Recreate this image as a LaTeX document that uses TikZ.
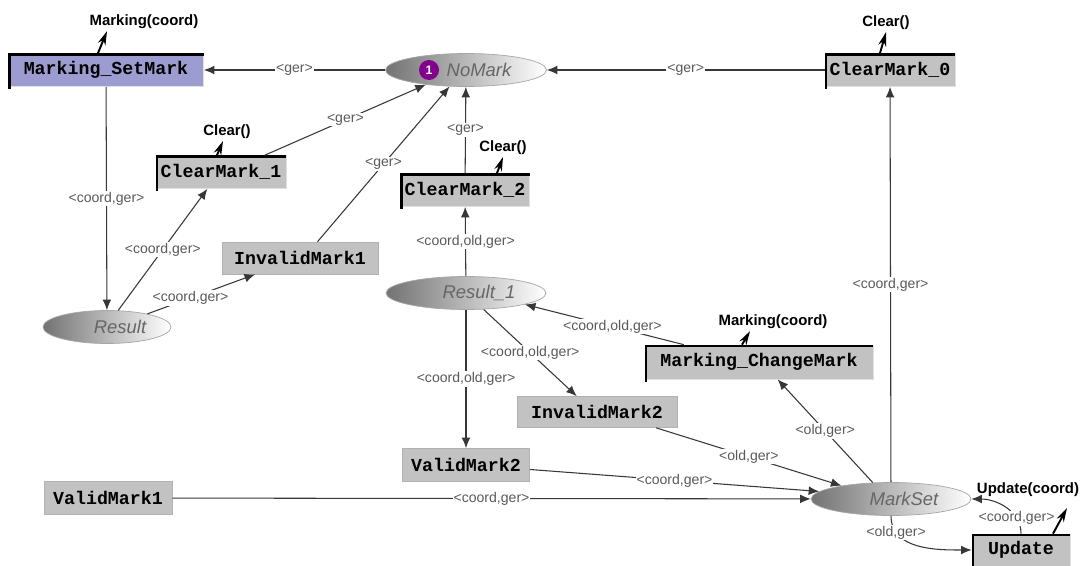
\documentclass[tikz,border=0pt]{standalone}
\usepackage{fontspec}
\setmainfont{Liberation Sans}
\newfontfamily\boxfont{Liberation Mono}
\usetikzlibrary{arrows.meta,shapes.geometric,positioning}

\definecolor{lavender}{RGB}{156,156,208}
\definecolor{boxgray}{RGB}{194,194,194}
\definecolor{arcgray}{RGB}{55,55,55}
\definecolor{labgray}{RGB}{90,90,90}
\definecolor{tokenpurple}{RGB}{130,0,140}

\tikzset{
	trans/.style={rectangle, fill=boxgray, draw=black!30, minimum height=0.66cm, inner sep=0pt,
		font=\boxfont\bfseries\fontsize{10.4}{12}\selectfont},
	hier/.style={trans, draw=black!12},
	edgeline/.style={line width=1.5pt, line cap=rect},
	place/.style={ellipse, draw=black!35, left color=black!55, middle color=black!8, right color=white,
		minimum height=0.66cm, inner sep=0pt},
	plabel/.style={xshift=0.26cm, text=black!60, font=\itshape\fontsize{10.5}{12}\selectfont},
	token/.style={circle, fill=tokenpurple, text=white, minimum size=0.4cm, inner sep=0pt,
		font=\bfseries\fontsize{7}{8}\selectfont},
	arc/.style={draw=arcgray, line width=0.6pt, -{Latex[length=6pt,width=5pt]}},
	lab/.style={fill=white, inner sep=0.6pt, text=labgray, font=\fontsize{8}{9}\selectfont},
	inscr/.style={inner sep=1pt, font=\bfseries\fontsize{8.5}{10}\selectfont},
	bolt/.style={line width=1.1pt, -{Stealth[length=8pt,width=4.5pt]}},
}

\begin{document}
\begin{tikzpicture}[x=0.02cm,y=-0.02cm]
	\useasboundingbox[fill=white] (0,0) rectangle (1087,565);

	% places
	\node[place, minimum width=3.22cm, label={[plabel]center:NoMark}] (nomark) at (466,70) {};
	\node[token] (tok) at ([xshift=-0.74cm]nomark.center) {1};
	\node[place, minimum width=2.56cm, label={[plabel]center:Result}] (result) at (107,327) {};
	\node[place, minimum width=3.2cm, label={[plabel]center:Result\_1}] (result1) at (466,293) {};
	\node[place, minimum width=3.2cm, label={[plabel]center:MarkSet}] (markset) at (891,499) {};

	% transitions
	\node[hier, fill=lavender, minimum width=3.9cm] (setmark) at (106,70) {Marking\_SetMark};
	\node[hier, minimum width=2.6cm] (clear0) at (890,70) {ClearMark\_0};
	\node[hier, minimum width=2.6cm] (clear1) at (221,172) {ClearMark\_1};
	\node[hier, minimum width=2.58cm] (clear2) at (465,190) {ClearMark\_2};
	\node[trans, minimum width=3.12cm, minimum height=0.64cm] (invalid1) at (300,258) {InvalidMark1};
	\node[hier, minimum width=4.56cm, minimum height=0.68cm] (changemark) at (759,362) {Marking\_ChangeMark};
	\node[trans, minimum width=3.2cm, minimum height=0.62cm] (invalid2) at (597,412) {InvalidMark2};
	\node[trans, minimum width=2.54cm] (valid2) at (466,465) {ValidMark2};
	\node[trans, minimum width=2.56cm] (valid1) at (108,498) {ValidMark1};
	\node[hier, minimum width=1.96cm, minimum height=0.64cm] (update) at (1021,550) {Update};

	% dark top and left edge of the boxes with inscriptions
	\foreach \t in {setmark,clear0,clear1,clear2,changemark,update}
		\draw[edgeline] ([shift={(0.7pt,-0.7pt)}]\t.south west) -- ([shift={(0.7pt,-0.7pt)}]\t.north west)
			-- ([shift={(-0.7pt,-0.7pt)}]\t.north east);

	% inscriptions
	\node[inscr] (insset) at (144,22) {Marking(coord)};
	\node[inscr] (insclear1) at (227,132) {Clear()};
	\node[inscr] (insclear2) at (503,148) {Clear()};
	\node[inscr] (insclear0) at (886,23) {Clear()};
	\node[inscr] (inschange) at (773,322) {Marking(coord)};
	\node[inscr] (insupdate) at (1028,490) {Update(coord)};

	\draw[bolt] ([xshift=-0.16cm]setmark.north) -- ([xshift=-0.74cm]insset.south);
	\draw[bolt] ([xshift=-0.08cm]clear1.north) -- ([xshift=-0.08cm]insclear1.south);
	\draw[bolt] ([xshift=0.64cm]clear2.north) -- (insclear2.south);
	\draw[bolt] ([xshift=-0.2cm]clear0.north) -- (insclear0.south);
	\draw[bolt] ([xshift=-0.34cm]changemark.north) -- ([xshift=-0.46cm]inschange.south);
	\draw[bolt] ([xshift=0.64cm]update.north) -- ([xshift=0.78cm,yshift=-0.18cm]insupdate.south);

	% arcs
	\draw[arc] (nomark) -- node[lab]{<ger>} (setmark);
	\draw[arc] (clear0) -- node[lab]{<ger>} (nomark);
	\draw[arc] (setmark) -- node[lab]{<coord,ger>} (result);
	\draw[arc] (result.56) -- node[lab]{<coord,ger>} (clear1.231);
	\draw[arc] (result.18) -- node[lab,pos=0.4]{<coord,ger>} (invalid1.200);
	\draw[arc] (clear1.21) -- node[lab]{<ger>} (nomark.200);
	\draw[arc] (invalid1.43) -- node[lab]{<ger>} (nomark.225);
	\draw[arc] (clear2) -- node[lab]{<ger>} (nomark);
	\draw[arc] (result1) -- node[lab]{<coord,old,ger>} (clear2);
	\draw[arc] (changemark.167) -- node[lab,pos=0.45]{<coord,old,ger>} (result1.-11);
	\draw[arc] (result1.-43) -- node[lab]{<coord,old,ger>} (invalid2.142);
	\draw[arc] (result1) -- node[lab]{<coord,old,ger>} (valid2);
	\draw[arc] (valid1) -- node[lab]{<coord,ger>} (markset);
	\draw[arc] (valid2.-4) -- node[lab]{<coord,ger>} (markset.174);
	\draw[arc] (invalid2.-15) -- node[lab]{<old,ger>} (markset.165);
	\draw[arc] (markset.138) -- node[lab]{<old,ger>} (changemark.-43);
	\draw[arc] (markset) -- node[lab]{<coord,ger>} (clear0);
	\draw[arc] (markset.south) to[out=-90,in=180] node[lab,pos=0.2]{<old,ger>} (update.west);
	\draw[arc] (update.north) to[out=90,in=0] node[lab,pos=0.25]{<coord,ger>} (markset.east);
	%\draw[arc] (tok) -- (nomark.east);
\end{tikzpicture}
\end{document}
